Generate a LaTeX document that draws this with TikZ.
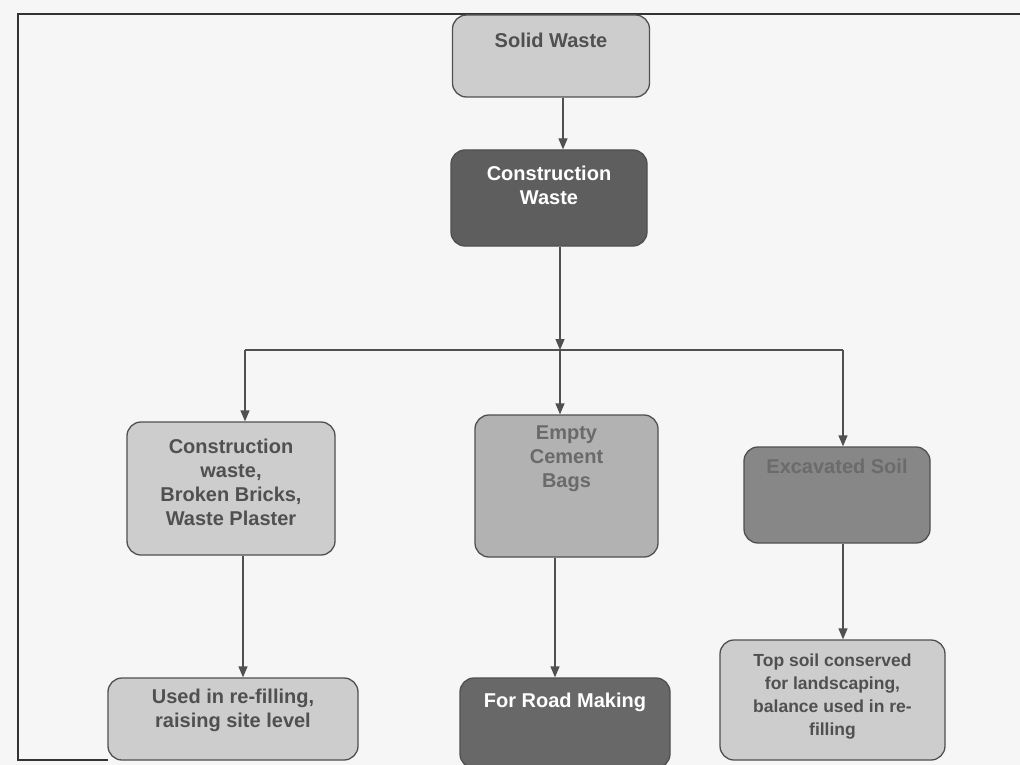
\documentclass[tikz,border=0pt]{standalone}
\usepackage{fontspec}
\setmainfont{Liberation Sans}
\usetikzlibrary{arrows.meta,calc}
\definecolor{bg}{HTML}{F6F6F6}
\definecolor{lightfill}{HTML}{CDCDCD}
\definecolor{midfill}{HTML}{B2B2B2}
\definecolor{soilfill}{HTML}{878787}
\definecolor{darkfill}{HTML}{5E5E5E}
\definecolor{roadfill}{HTML}{686868}
\definecolor{edge}{HTML}{505050}
\definecolor{txtgray}{HTML}{505050}
\tikzset{
  box/.style={draw=edge, line width=1.3pt, rounded corners=14pt, inner sep=0pt},
  txt/.style={align=center, font=\bfseries\fontsize{20}{24}\selectfont, text=txtgray, inner sep=0pt},
  conn/.style={draw=edge, line width=1.3pt},
  arr/.style={conn, -{Triangle[width=9pt,length=11pt]}},
  frame/.style={draw=black!80, line width=1.6pt}
}
\begin{document}
\begin{tikzpicture}[x=1pt,y=-1pt]
\fill[bg] (0,0) rectangle (1020,765);
\useasboundingbox (0,0) rectangle (1020,765);
% frame
\coordinate (ftl) at (18,14);
\coordinate (ftr) at (1020,14);
\coordinate (fbl) at (18,760);
\coordinate (fbr) at (108,760);
\draw[frame] (ftr) -- (ftl) -- (fbl) -- (fbr);
% boxes
\node[box, fill=lightfill, minimum width=197pt, minimum height=82pt] (sw) at (551,56) {};
\node[txt] (swt) at (551,40) {Solid Waste};
\node[box, fill=darkfill, minimum width=196pt, minimum height=96pt] (cw) at (549,198) {};
\node[txt, text=white] (cwt) at (549,185) {Construction\\Waste};
\node[box, fill=lightfill, minimum width=208pt, minimum height=133pt] (cb) at (231,488.5) {};
\node[txt] (cbt) at (231,482) {Construction\\waste,\\Broken Bricks,\\Waste Plaster};
\node[box, fill=midfill, minimum width=183pt, minimum height=142pt] (ec) at (566.5,486) {};
\node[txt, text=txtgray!85] (ect) at (566.5,459) {Empty\\Cement\\Bags};
\node[box, fill=soilfill, minimum width=186pt, minimum height=96pt] (es) at (837,495) {};
\node[txt, text=black!58] (est) at (837,466) {Excavated Soil};
\node[box, fill=lightfill, minimum width=250pt, minimum height=82pt] (rf) at (233,719) {};
\node[txt] (rft) at (233,710) {Used in re-filling,\\raising site level};
\node[box, fill=roadfill, minimum width=210pt, minimum height=90pt] (rm) at (565,723) {};
\node[txt, text=white] (rmt) at (565,702) {For Road Making};
\node[box, fill=lightfill, minimum width=225pt, minimum height=120pt] (ts) at (832.5,700) {};
\node[txt, font=\bfseries\fontsize{17.5}{23}\selectfont] (tst) at (832.5,697) {Top soil conserved\\for landscaping,\\balance used in re-\\filling};
% connectors
\coordinate (jc) at (560,350);
\coordinate (jl) at (245,350);
\coordinate (jr) at (843,350);
\draw[arr] (sw.south -| 563,0) -- (cw.north -| 563,0);
\draw[arr] (cw.south -| jc) -- (jc);
\draw[conn] (jl) -- (jr);
\draw[arr] (jl) -- (cb.north -| jl);
\draw[arr] (jc) -- (ec.north -| jc);
\draw[arr] (jr) -- (es.north -| jr);
\draw[arr] (cb.south -| 243,0) -- (rf.north -| 243,0);
\draw[arr] (ec.south -| 555,0) -- (rm.north -| 555,0);
\draw[arr] (es.south -| 843,0) -- (ts.north -| 843,0);
\end{tikzpicture}
\end{document}
